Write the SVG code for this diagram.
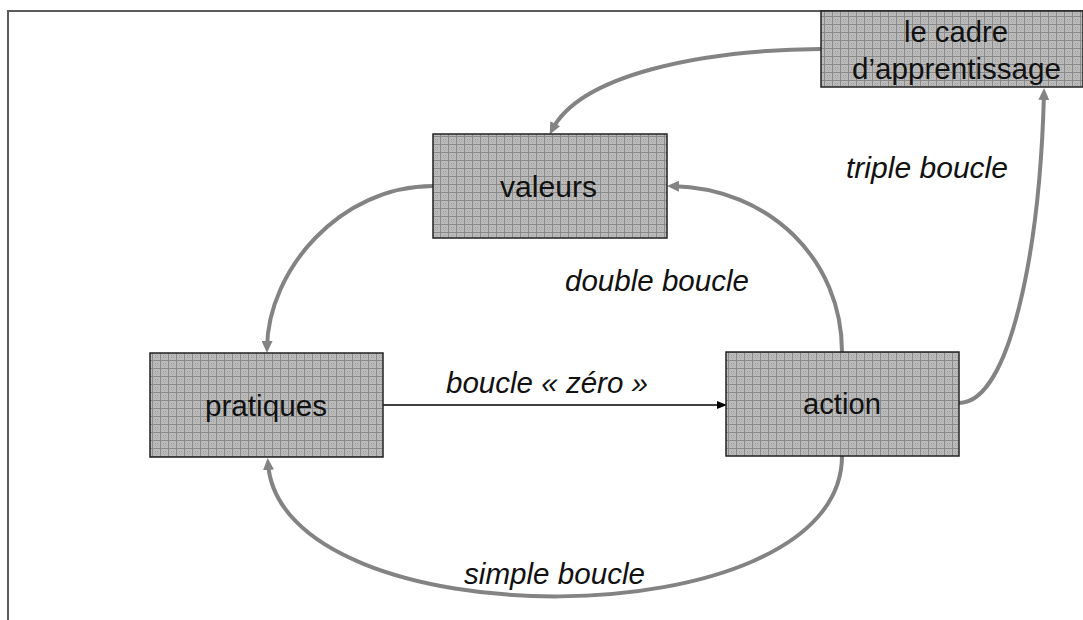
<svg xmlns="http://www.w3.org/2000/svg" width="1083" height="620" viewBox="0 0 1083 620">
<style>
.box{fill:url(#grid);stroke:#222;stroke-width:1.5}
.lbl{font-family:"Liberation Sans",Arial,sans-serif;font-size:29px;fill:#111}
.it{font-family:"Liberation Sans",Arial,sans-serif;font-size:29px;font-style:italic;fill:#111}
.conn{fill:none;stroke:#838383;stroke-width:4}
.zero{fill:none;stroke:#000;stroke-width:1.5}
</style>
<defs>
<pattern id="grid" patternUnits="userSpaceOnUse" width="8" height="8">
<rect width="8" height="8" fill="#bababa"/>
<rect x="0" y="0" width="8" height="1" fill="#8a8a8a"/>
<rect x="0" y="0" width="1" height="8" fill="#8a8a8a"/>
<rect x="3" y="3" width="1" height="1" fill="#a0a0a0"/>
<rect x="5" y="5" width="1" height="1" fill="#a0a0a0"/>
<rect x="3" y="5" width="1" height="1" fill="#a0a0a0"/>
<rect x="5" y="3" width="1" height="1" fill="#a0a0a0"/>
</pattern>
<marker id="ga" viewBox="0 0 12 11" refX="7" refY="5.5" markerWidth="12" markerHeight="11" markerUnits="userSpaceOnUse" orient="auto">
<path d="M0,0 L12,5.5 L0,11 z" fill="#838383"/>
</marker>
<marker id="ba" viewBox="0 0 10 8" refX="9" refY="4" markerWidth="10" markerHeight="8" markerUnits="userSpaceOnUse" orient="auto">
<path d="M0,0 L10,4 L0,8 z" fill="#000"/>
</marker>
</defs>
<rect width="1083" height="620" fill="#fff"/>
<path d="M8,620 V11 H1083" fill="none" stroke="#5a5a5a" stroke-width="2"/>
<g id="connectors">
<path class="conn" d="M821,49 C700,50 580,75 552,130" marker-end="url(#ga)"/>
<path class="conn" d="M433,186 C340,186 268,270 267,348" marker-end="url(#ga)"/>
<path class="conn" d="M842,352 C842,260 770,188 672,186" marker-end="url(#ga)"/>
<path class="conn" d="M842,456 C842,642 280,642 268,463" marker-end="url(#ga)"/>
<path class="conn" d="M959,403 C1010,403 1040,250 1044,93" marker-end="url(#ga)"/>
<path class="zero" d="M383,405 H726" marker-end="url(#ba)"/>
</g>
<g id="node-cadre">
<rect class="box" x="821" y="11" width="262" height="76"/>
<text class="lbl" x="904" y="42" textLength="104" lengthAdjust="spacingAndGlyphs">le cadre</text>
<text class="lbl" x="852" y="79" textLength="209" lengthAdjust="spacingAndGlyphs">d’apprentissage</text>
</g>
<g id="node-valeurs">
<rect class="box" x="433" y="134" width="234" height="104"/>
<text class="lbl" x="500" y="197" textLength="97" lengthAdjust="spacingAndGlyphs">valeurs</text>
</g>
<g id="node-pratiques">
<rect class="box" x="150" y="353" width="233" height="104"/>
<text class="lbl" x="205" y="416" textLength="122" lengthAdjust="spacingAndGlyphs">pratiques</text>
</g>
<g id="node-action">
<rect class="box" x="726" y="352" width="233" height="104"/>
<text class="lbl" x="803" y="414" textLength="78" lengthAdjust="spacingAndGlyphs">action</text>
</g>
<g id="labels">
<text class="it" x="446" y="393" textLength="202" lengthAdjust="spacingAndGlyphs">boucle « zéro »</text>
<text class="it" x="565" y="291" textLength="184" lengthAdjust="spacingAndGlyphs">double boucle</text>
<text class="it" x="846" y="178" textLength="162" lengthAdjust="spacingAndGlyphs">triple boucle</text>
<text class="it" x="464" y="584" textLength="181" lengthAdjust="spacingAndGlyphs">simple boucle</text>
</g>
</svg>
